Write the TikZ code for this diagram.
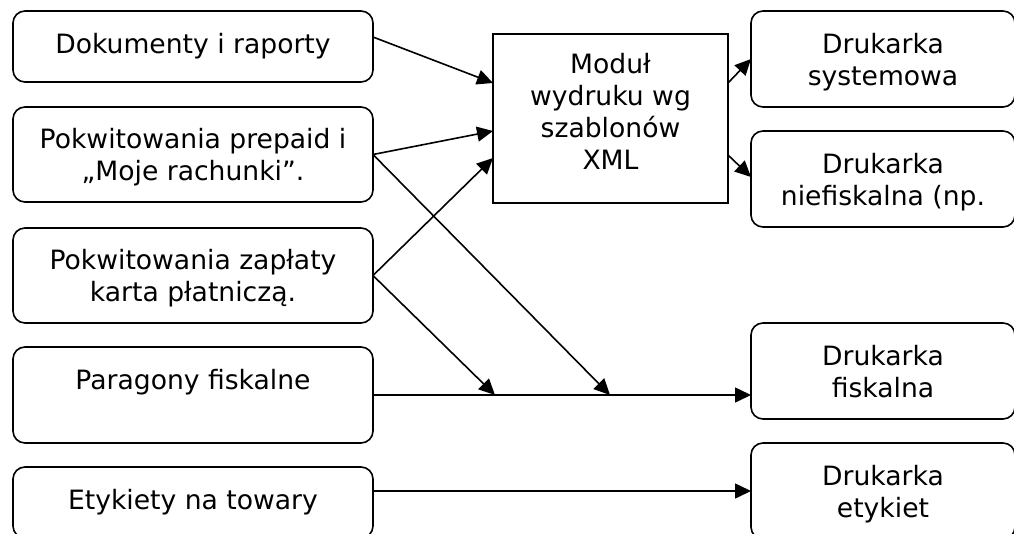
\documentclass[tikz,border=0pt]{standalone}
\usepackage{fontspec}
\setmainfont{DejaVu Sans}
\usetikzlibrary{arrows.meta}
\begin{document}
\begin{tikzpicture}[x=1pt,y=-1pt,
  every node/.style={font=\fontsize{26.6pt}{32pt}\selectfont, align=center, inner sep=0pt, outer sep=0pt},
  inbox/.style={draw, line width=1.6pt, rounded corners=12pt, minimum width=360pt},
  outbox/.style={draw, line width=1.6pt, rounded corners=12pt, minimum width=264pt, minimum height=96pt, text depth=0pt},
  modbox/.style={draw, line width=1.6pt, minimum width=235pt, minimum height=169pt, text depth=14pt},
  conn/.style={line width=1.6pt, -{Triangle[length=16pt,width=15pt]}}
]
\useasboundingbox (0,0) rectangle (1014,533);
\clip (0,0) rectangle (1014,533);

% left boxes
\node[inbox, minimum height=71pt] (L1) at (193,46.5) {Dokumenty i raporty};
\node[inbox, minimum height=95pt, text depth=0pt] (L2) at (193,154.5) {Pokwitowania prepaid i\\„Moje rachunki”.};
\node[inbox, minimum height=95pt, text depth=0pt] (L3) at (193,275.5) {Pokwitowania zapłaty\\karta płatniczą.};
\node[inbox, minimum height=96pt, text depth=0pt] (L4) at (193,395) {Paragony fiskalne\\\mbox{}};
\node[inbox, minimum height=71pt] (L5) at (193,502.5) {Etykiety na towary};

% module
\node[modbox] (C) at (610.5,118.5) {Moduł\\wydruku wg\\szablonów\\XML};

% right boxes
\node[outbox] (R1) at (883,59) {Drukarka\\systemowa};
\node[outbox] (R2) at (883,179) {Drukarka\\niefiskalna (np.};
\node[outbox] (R3) at (883,371) {Drukarka\\fiskalna};
\node[outbox] (R4) at (883,491) {Drukarka\\etykiet};

\coordinate (m1) at (495,395);
\coordinate (m2) at (610,395);

% connectors
\draw[conn] ([yshift=9.5pt]L1.east) -- ([yshift=35.5pt]C.west);
\draw[conn] (L2.east) -- ([yshift=-12.5pt]C.west);
\draw[conn] (L3.east) -- ([yshift=-39.5pt]C.west);
\draw[conn] (L2.east) -- (m2);
\draw[conn] (L3.east) -- (m1);
\draw[conn] (L4.east) -- ([yshift=-24pt]R3.west);
\draw[conn] ([yshift=11.5pt]L5.east) -- (R4.west);
\draw[conn] ([yshift=35.5pt]C.east) -- (R1.west);
\draw[conn] ([yshift=-36.5pt]C.east) -- ([yshift=2pt]R2.west);
\end{tikzpicture}
\end{document}
